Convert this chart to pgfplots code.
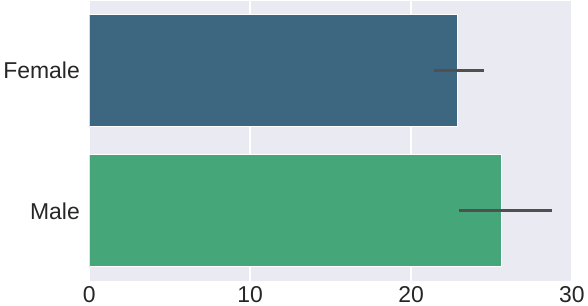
\documentclass[border=0pt]{standalone}
\usepackage{pgfplots}
\pgfplotsset{compat=1.18}
\usepackage{fontspec}
\setmainfont{Liberation Sans}
\definecolor{bgc}{RGB}{234,234,242}
\definecolor{fem}{RGB}{61,102,128}
\definecolor{mal}{RGB}{69,167,121}
\definecolor{errc}{RGB}{80,80,80}
\definecolor{txt}{RGB}{38,38,38}
\begin{document}
\begin{tikzpicture}
\begin{axis}[
  scale only axis,
  width=484pt, height=281pt,
  xmin=0, xmax=30,
  ymin=-0.5, ymax=1.5,
  y dir=reverse,
  axis background/.style={fill=bgc},
  axis line style={draw=none},
  major tick length=0pt,
  xtick={0,10,20,30},
  ytick={0,1},
  yticklabels={Female,Male},
  xmajorgrids,
  ymajorgrids=false,
  grid style={white, line width=1.4pt},
  tick label style={font=\fontsize{23}{26}\selectfont, text=txt},
  /pgf/number format/assume math mode=true,
  xticklabel style={yshift=-2pt},
  yticklabel style={xshift=-6pt},
  axis on top=false,
]
\addplot[xbar, bar width=0.8, bar shift=0pt, fill=fem, draw=white, line width=1.2pt,
  error bars/.cd, x dir=both, x explicit, error mark=none,
  error bar style={line width=2.8pt, errc}]
  coordinates {(22.88,0) += (1.64,0) -= (1.45,0)};
\addplot[xbar, bar width=0.8, bar shift=0pt, fill=mal, draw=white, line width=1.2pt,
  error bars/.cd, x dir=both, x explicit, error mark=none,
  error bar style={line width=2.8pt, errc}]
  coordinates {(25.6,1) += (3.18,0) -= (2.62,0)};
\end{axis}
\end{tikzpicture}
\end{document}
